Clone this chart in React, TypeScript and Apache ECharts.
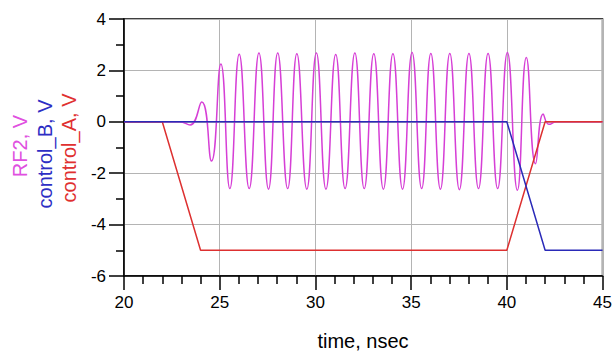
import React, { useEffect, useRef } from "react";
import * as echarts from "echarts";

const xTicks = [20, 25, 30, 35, 40, 45];
const yTicks = [-6, -4, -2, 0, 2, 4];

const controlATime = [20, 22, 24, 40, 42, 45];
const controlAValue = [0, 0, -5, -5, 0, 0];

const controlBTime = [20, 40, 42, 45];
const controlBValue = [0, 0, -5, -5];

const rf2Time = [
  20, 22.9, 23.45, 24.06, 24.57, 25.06, 25.53, 26.02, 26.54, 27.05, 27.55,
  28.03, 28.55, 29.03, 29.55, 30.05, 30.55, 31.06, 31.55, 32.06, 32.55, 33.05,
  33.55, 34.05, 34.55, 35.05, 35.55, 36.03, 36.53, 37.02, 37.52, 38.02, 38.52,
  39.02, 39.52, 40.03, 40.55, 41.02, 41.5, 41.9, 42.2, 42.6, 45,
];
const rf2Value = [
  0, 0, -0.12, 0.77, -1.53, 2.25, -2.6, 2.63, -2.6, 2.68, -2.62, 2.68, -2.6,
  2.65, -2.62, 2.68, -2.62, 2.62, -2.6, 2.68, -2.6, 2.65, -2.62, 2.65, -2.62,
  2.7, -2.6, 2.66, -2.62, 2.66, -2.64, 2.66, -2.6, 2.66, -2.6, 2.7, -2.66, 2.5,
  -1.63, 0.3, -0.1, 0, 0,
];

const seriesNames = ["RF2, V", "control_B, V", "control_A, V"];
const xTitle = "time, nsec";

const pair = (xs: number[], ys: number[]) => xs.map((x, i) => [x, ys[i]]);

const FONT = 'Arial, "Liberation Sans", sans-serif';

export default function App() {
  const ref = useRef<HTMLDivElement>(null);
  useEffect(() => {
    document.body.style.margin = "0";
    if (!ref.current) return;
    const chart = echarts.init(ref.current, undefined, { renderer: "svg" });
    const tickStyle = { color: "#000", width: 1.5 };
    chart.setOption({
      animation: false,
      backgroundColor: "#fff",
      grid: {
        left: 124,
        right: 12,
        top: 19,
        bottom: 78,
        show: true,
        borderColor: "#000",
        borderWidth: 1.5,
      },
      xAxis: {
        type: "value",
        min: xTicks[0],
        max: xTicks[xTicks.length - 1],
        interval: 5,
        axisLine: { show: true, onZero: false, lineStyle: { color: "#000", width: 1.5 } },
        axisTick: { show: true, length: 14, lineStyle: tickStyle },
        minorTick: { show: true, splitNumber: 5, length: 8, lineStyle: tickStyle },
        splitLine: { show: true, lineStyle: { color: "#b4b4b4", width: 1 } },
        axisLabel: { color: "#000", fontSize: 17, fontFamily: FONT, margin: 18 },
      },
      yAxis: {
        type: "value",
        min: yTicks[0],
        max: yTicks[yTicks.length - 1],
        interval: 2,
        axisLine: { show: true, onZero: false, lineStyle: { color: "#000", width: 1.5 } },
        axisTick: { show: true, length: 15, lineStyle: tickStyle },
        minorTick: { show: true, splitNumber: 2, length: 8, lineStyle: tickStyle },
        splitLine: { show: true, lineStyle: { color: "#b4b4b4", width: 1 } },
        axisLabel: { color: "#000", fontSize: 17, fontFamily: FONT, margin: 18 },
      },
      series: [
        {
          name: seriesNames[0],
          type: "line",
          data: pair(rf2Time, rf2Value),
          smooth: 0.5,
          showSymbol: false,
          lineStyle: { color: "#d63fd6", width: 1.5 },
        },
        {
          name: seriesNames[2],
          type: "line",
          data: pair(controlATime, controlAValue),
          showSymbol: false,
          lineStyle: { color: "#dd3030", width: 1.5 },
        },
        {
          name: seriesNames[1],
          type: "line",
          data: pair(controlBTime, controlBValue),
          showSymbol: false,
          lineStyle: { color: "#2a2ab8", width: 1.5 },
        },
      ],
      graphic: [
        {
          type: "text",
          x: 20,
          y: 146,
          rotation: Math.PI / 2,
          style: {
            text: seriesNames[0],
            fill: "#e050e0",
            fontSize: 20,
            fontFamily: FONT,
            textAlign: "center",
            textVerticalAlign: "middle",
          },
        },
        {
          type: "text",
          x: 45,
          y: 154,
          rotation: Math.PI / 2,
          style: {
            text: seriesNames[1],
            fill: "#2e2ec4",
            fontSize: 20,
            fontFamily: FONT,
            textAlign: "center",
            textVerticalAlign: "middle",
          },
        },
        {
          type: "text",
          x: 69,
          y: 148,
          rotation: Math.PI / 2,
          style: {
            text: seriesNames[2],
            fill: "#e03030",
            fontSize: 20,
            fontFamily: FONT,
            textAlign: "center",
            textVerticalAlign: "middle",
          },
        },
        {
          type: "text",
          x: 363,
          y: 341,
          style: {
            text: xTitle,
            fill: "#000",
            fontSize: 20,
            fontFamily: FONT,
            textAlign: "center",
            textVerticalAlign: "middle",
          },
        },
      ],
    });
    return () => chart.dispose();
  }, []);
  return <div ref={ref} style={{ width: 615, height: 354 }} />;
}
